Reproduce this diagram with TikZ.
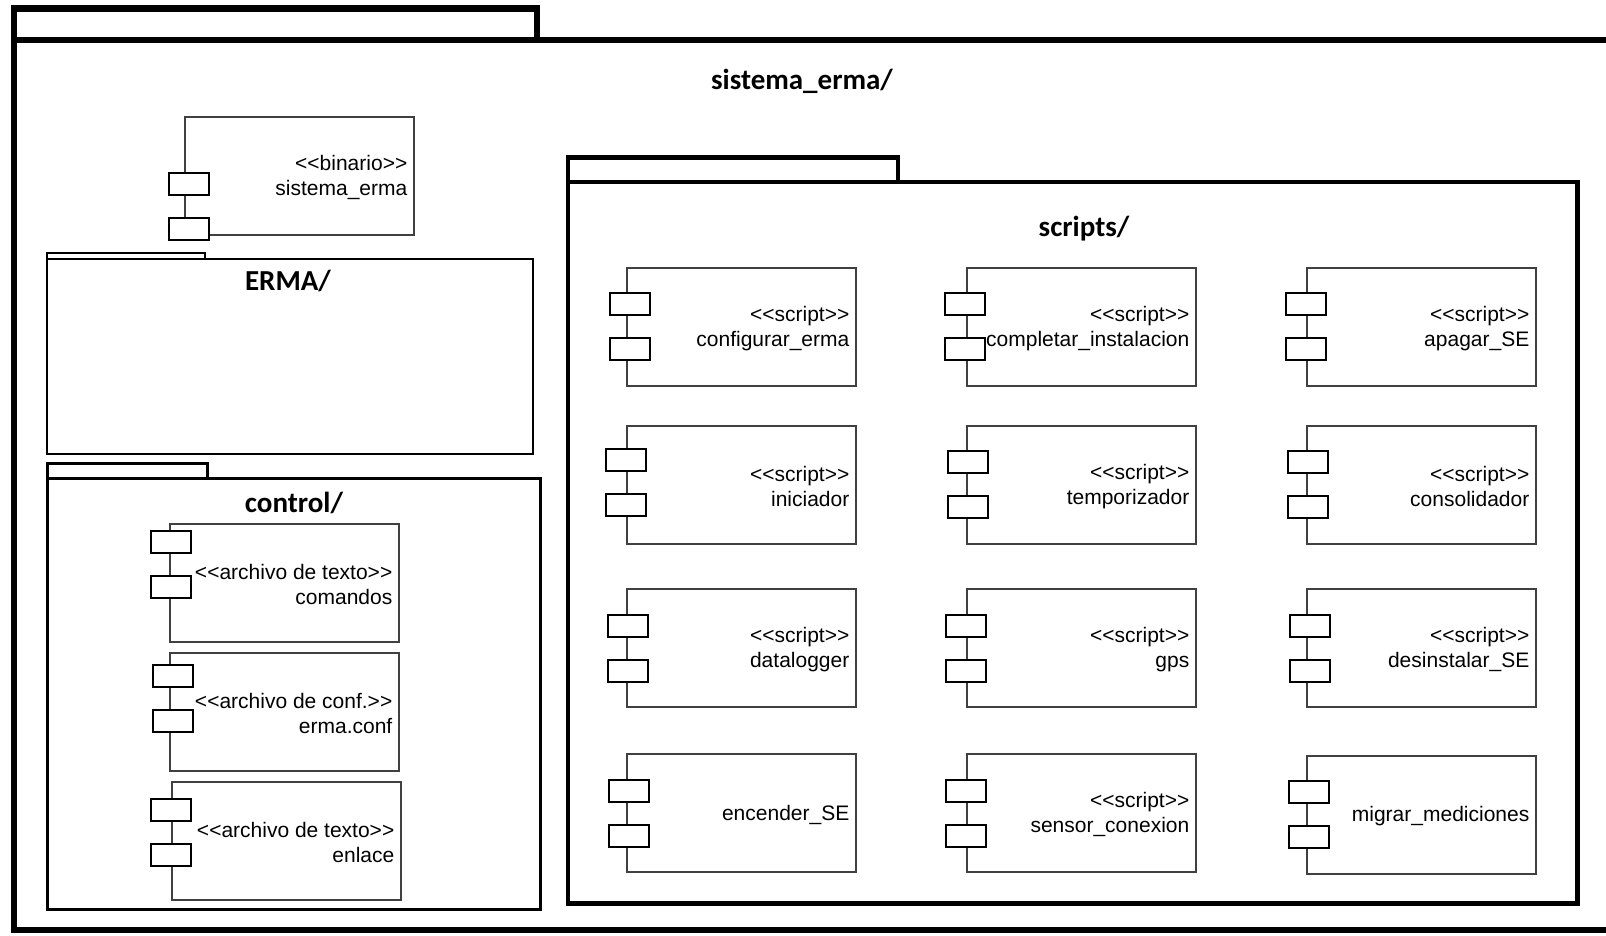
\documentclass[tikz,border=0pt]{standalone}
\usepackage{fontspec}
\setmainfont{Liberation Sans}[Ligatures=TeXOff]
\newfontfamily\pkgfont{Carlito}

\tikzset{
  compbox/.style={draw=black!75, line width=1.3pt, minimum width=229pt,
    minimum height=118pt, inner sep=0pt, outer sep=0pt, anchor=north west},
  port/.style={draw=black, fill=white, line width=2pt, minimum width=40pt,
    minimum height=22pt, inner sep=0pt, outer sep=0pt},
  lbl/.style={align=right, inner sep=0pt, anchor=east,
    font=\fontsize{21}{24.5}\selectfont},
  pkgtitle/.style={font=\pkgfont\bfseries\fontsize{29}{34}\selectfont, inner sep=0pt},
  pkgline/.style={draw=black, line join=miter},
}

% component: name, left x, top y, port x offset, first port y offset, label
\newcommand\comp[6]{%
  \node[compbox] (#1) at (#2,#3) {};
  \node[port] (#1-p1) at ([xshift=#4pt, yshift=-#5pt]#1.north west) {};
  \node[port] (#1-p2) at ([xshift=#4pt, yshift={-(#5+45)*1pt}]#1.north west) {};
  \node[lbl] (#1-t) at ([xshift=-6.5pt, yshift=-1.5pt]#1.east) {#6};
}

\begin{document}
\begin{tikzpicture}[x=1pt, y=-1pt]
\useasboundingbox (0,0) rectangle (1606,936);
\clip (0,0) rectangle (1606,936);
\fill[white] (0,0) rectangle (1606,936);

% outer package sistema_erma/
\draw[pkgline, line width=6.5pt] (14,8.5) rectangle (537,40);
\draw[pkgline, line width=6.5pt] (14,40) rectangle (1650,930);
\node[pkgtitle] (tsis) at (802,81) {sistema\_erma/};

% binary
\comp{bin}{185}{117}{3.5}{67}{<<binario>>\\sistema\_erma}

% package ERMA/
\draw[pkgline, line width=2pt] (47,252.5) rectangle (205,259);
\draw[pkgline, line width=2pt] (47,259) rectangle (533,453.5);
\node[pkgtitle] (terma) at (288,281) {ERMA/};

% package control/
\draw[pkgline, line width=3pt] (47,463) rectangle (207,478);
\draw[pkgline, line width=3pt] (47,478) rectangle (540,909);
\node[pkgtitle] (tctl) at (294,503) {control/};

\comp{cmd}{170}{524}{1}{17.5}{<<archivo de texto>>\\comandos}
\comp{conf}{170}{653}{2.5}{23}{<<archivo de conf.>>\\erma.conf}
\comp{enl}{172}{782}{-1.5}{28}{<<archivo de texto>>\\enlace}

% package scripts/
\draw[pkgline, line width=4.5pt] (568,157.5) rectangle (898,182);
\draw[pkgline, line width=4.5pt] (568,182) rectangle (1577.5,903.5);
\node[pkgtitle] (tscr) at (1084,229) {scripts/};

\comp{cfg}{627}{268}{3}{36}{<<script>>\\configurar\_erma}
\comp{cmp}{967}{268}{-2}{36}{<<script>>\\completar\_instalacion}
\comp{apg}{1307}{268}{-1}{36}{<<script>>\\apagar\_SE}

\comp{ini}{627}{426}{-1}{34}{<<script>>\\iniciador}
\comp{tmp}{967}{426}{0.5}{36}{<<script>>\\temporizador}
\comp{cns}{1307}{426}{1}{36}{<<script>>\\consolidador}

\comp{dlg}{627}{589}{0.5}{37}{<<script>>\\datalogger}
\comp{gps}{967}{589}{-1}{36.5}{<<script>>\\gps}
\comp{des}{1307}{589}{3}{37}{<<script>>\\desinstalar\_SE}

\comp{enc}{627}{754}{2}{37}{encender\_SE}
\comp{sen}{967}{754}{-1}{37}{<<script>>\\sensor\_conexion}
\comp{mig}{1307}{756}{1.5}{36}{migrar\_mediciones}
\end{tikzpicture}
\end{document}
